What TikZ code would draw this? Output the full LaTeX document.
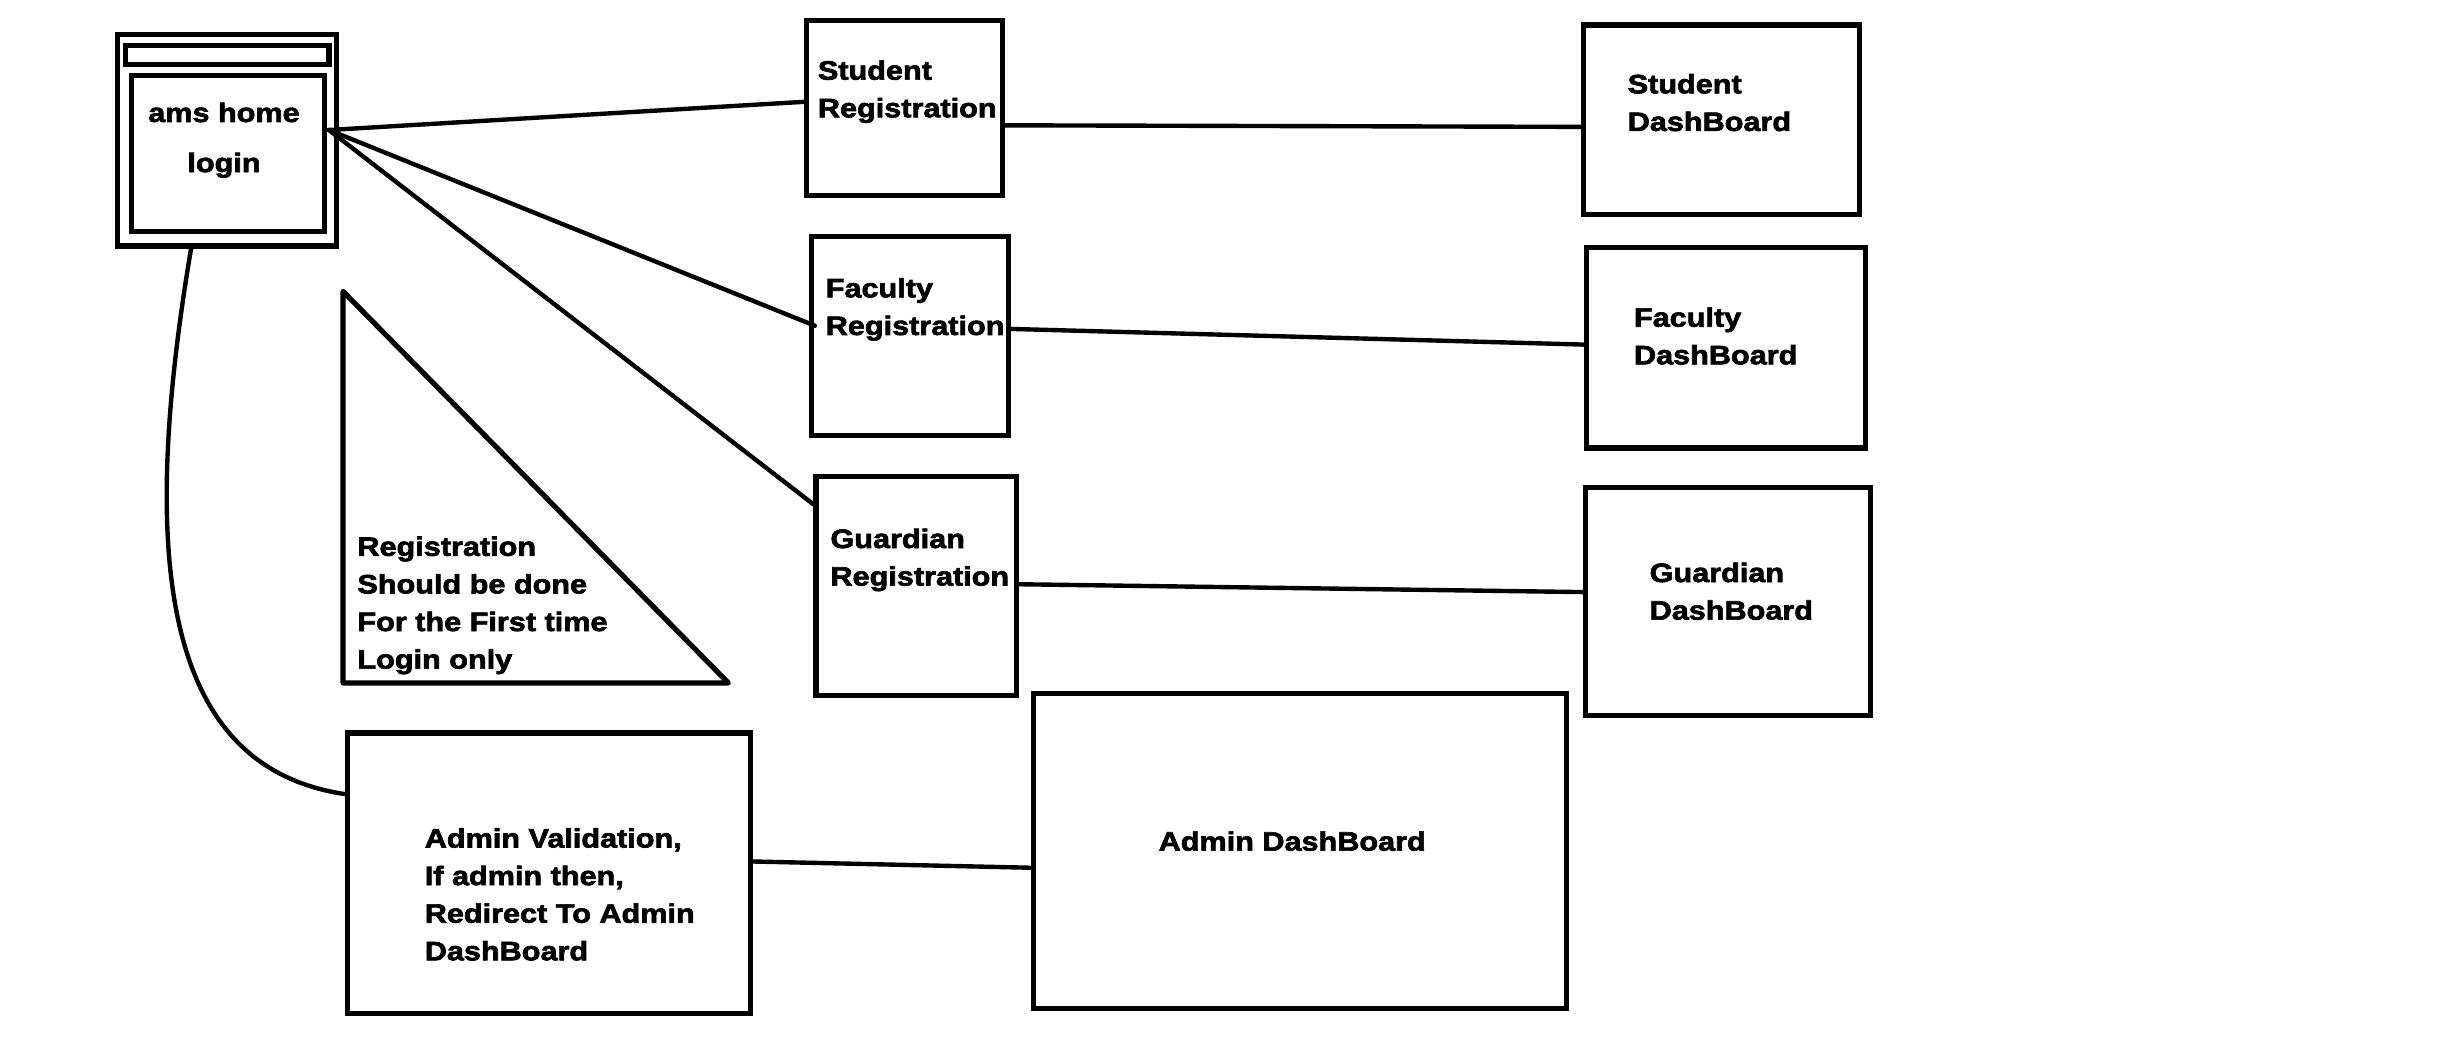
\documentclass[tikz,border=0pt]{standalone}
\usepackage{fontspec}
\newfontfamily\paintfont[FakeStretch=1.15,FakeBold=2.5]{Liberation Sans Bold}

\begin{document}
\begin{tikzpicture}[x=1pt,y=-1pt,
    box/.style={draw,line width=3.3pt,inner sep=0pt},
    txt/.style={font=\paintfont\fontsize{17}{24}\selectfont,align=left,anchor=west,inner sep=0pt},
    link/.style={line width=2.8pt,line cap=round}]
      % \draw[help lines](0,0) grid[step=50] (1568,672);
      \useasboundingbox (0,0) rectangle (1568,672);

      % login window
      \draw (145,89.5) node[box,minimum width=140pt,minimum height=135pt] (home) {};
      \draw (145,35) node[box,minimum width=130pt,minimum height=12pt] (titlebar) {};
      \draw (145.5,98) node[box,minimum width=123pt,minimum height=100pt] (loginpane) {};
      \draw (143,89.5) node[txt,anchor=center,align=center] (hometxt) {ams home\\[8pt]login};
      \coordinate (hub) at (210,83);

      % registration boxes
      \draw (577.5,69) node[box,minimum width=125pt,minimum height=112pt] (studentreg) {};
      \draw (581,214.5) node[box,minimum width=126pt,minimum height=127pt] (facultyreg) {};
      \draw (585,374) node[box,minimum width=128pt,minimum height=140pt] (guardianreg) {};
      \draw (522,58.5) node[txt] (studentregtxt) {Student\\Registration};
      \draw (527,197.5) node[txt] (facultyregtxt) {Faculty\\Registration};
      \draw (530,357.5) node[txt] (guardianregtxt) {Guardian\\Registration};

      % dashboards
      \draw (1099,76.5) node[box,minimum width=176pt,minimum height=121pt] (studentdash) {};
      \draw (1102,222) node[box,minimum width=178pt,minimum height=128pt] (facultydash) {};
      \draw (1103,384) node[box,minimum width=182pt,minimum height=146pt] (guardiandash) {};
      \draw (1039,65.5) node[txt] (studentdashtxt) {Student\\DashBoard};
      \draw (1043,214.5) node[txt] (facultydashtxt) {Faculty\\DashBoard};
      \draw (1053,377.5) node[txt] (guardiandashtxt) {Guardian\\DashBoard};

      % note
      \draw[line width=3.3pt,line join=round] (219,186) -- (219,436) -- (465,436) -- cycle;
      \draw (228,386.5) node[txt] (note) {Registration\\Should be done\\For the First time\\Login only};

      % admin
      \draw (350.5,557.5) node[box,minimum width=257pt,minimum height=179pt] (adminval) {};
      \draw (271,571) node[txt] (adminvaltxt) {Admin Validation,\\If admin then,\\Redirect To Admin\\DashBoard};
      \draw (830,543.5) node[box,minimum width=340pt,minimum height=201pt] (admindash) {};
      \draw (825,537) node[txt,anchor=center] (admindashtxt) {Admin DashBoard};

      \draw[link] (hub) -- ([yshift=4pt]studentreg.west);
      \draw[link] (hub) -- ([xshift=4pt,yshift=6.5pt]facultyreg.west);
      \draw[link] (hub) -- ([yshift=52pt]guardianreg.west);
      \draw[link] ([yshift=-11pt]studentreg.east) -- ([yshift=-4.5pt]studentdash.west);
      \draw[link] ([yshift=4.5pt]facultyreg.east) -- ([yshift=2pt]facultydash.west);
      \draw[link] ([yshift=1pt]guardianreg.east) -- ([yshift=6pt]guardiandash.west);
      \draw[link] ([yshift=7.5pt]adminval.east) -- ([yshift=-10.5pt]admindash.west);
      \draw[link] ([xshift=-23pt]home.south) .. controls (88,360) and (105,490) .. ([yshift=50.5pt]adminval.west);
\end{tikzpicture}
\end{document}
